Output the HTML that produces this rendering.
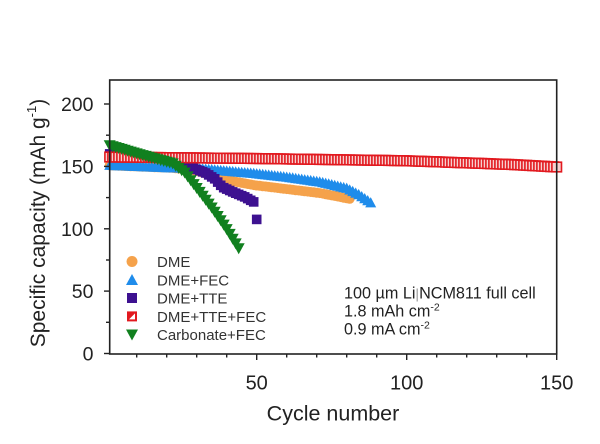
<!DOCTYPE html>
<html>
<head>
<meta charset="utf-8">
<style>
  html,body{margin:0;padding:0;background:#fff;}
  svg{display:block;}
  text{font-family:"Liberation Sans", Arial, sans-serif;}
</style>
</head>
<body>
<svg id="chart" width="600" height="444" viewBox="0 0 600 444" xmlns="http://www.w3.org/2000/svg">
  <rect x="0" y="0" width="600" height="444" fill="#fff"/>
  <g id="series"></g>

  <!-- frame -->
  <rect x="109.7" y="80" width="447" height="274" fill="none" stroke="#222" stroke-width="1.6"/>

  <!-- y ticks -->
  <g stroke="#222" stroke-width="1.4">
    <line x1="104" y1="353.5" x2="109.7" y2="353.5"/>
    <line x1="106" y1="322.3" x2="109.7" y2="322.3"/>
    <line x1="104" y1="291.1" x2="109.7" y2="291.1"/>
    <line x1="106" y1="260.0" x2="109.7" y2="260.0"/>
    <line x1="104" y1="228.8" x2="109.7" y2="228.8"/>
    <line x1="106" y1="197.6" x2="109.7" y2="197.6"/>
    <line x1="104" y1="166.4" x2="109.7" y2="166.4"/>
    <line x1="106" y1="135.2" x2="109.7" y2="135.2"/>
    <line x1="104" y1="104.0" x2="109.7" y2="104.0"/>
  </g>
  <!-- x ticks -->
  <g stroke="#222" stroke-width="1.4">
    <line x1="136.7" y1="354" x2="136.7" y2="357.5"/>
    <line x1="166.7" y1="354" x2="166.7" y2="357.5"/>
    <line x1="196.7" y1="354" x2="196.7" y2="357.5"/>
    <line x1="226.7" y1="354" x2="226.7" y2="357.5"/>
    <line x1="256.7" y1="354" x2="256.7" y2="360"/>
    <line x1="286.7" y1="354" x2="286.7" y2="357.5"/>
    <line x1="316.7" y1="354" x2="316.7" y2="357.5"/>
    <line x1="346.7" y1="354" x2="346.7" y2="357.5"/>
    <line x1="376.7" y1="354" x2="376.7" y2="357.5"/>
    <line x1="406.7" y1="354" x2="406.7" y2="360"/>
    <line x1="436.7" y1="354" x2="436.7" y2="357.5"/>
    <line x1="466.7" y1="354" x2="466.7" y2="357.5"/>
    <line x1="496.7" y1="354" x2="496.7" y2="357.5"/>
    <line x1="526.7" y1="354" x2="526.7" y2="357.5"/>
    <line x1="556.7" y1="354" x2="556.7" y2="360"/>
  </g>

  <!-- y tick labels -->
  <g font-size="19.5" fill="#222" text-anchor="end">
    <text x="93.5" y="360.5">0</text>
    <text x="93.5" y="298.1">50</text>
    <text x="93.5" y="235.8">100</text>
    <text x="93.5" y="173.4">150</text>
    <text x="93.5" y="111">200</text>
  </g>
  <!-- x tick labels -->
  <g font-size="20" fill="#222" text-anchor="middle">
    <text x="256.7" y="389.3">50</text>
    <text x="406.7" y="389.3">100</text>
    <text x="556.7" y="389.3">150</text>
  </g>

  <!-- axis titles -->
  <text x="333" y="420.5" font-size="21.5" fill="#222" text-anchor="middle">Cycle number</text>
  <text transform="translate(45,223) rotate(-90)" font-size="21" fill="#222" text-anchor="middle">Specific capacity (mAh g<tspan font-size="13" dy="-9">-1</tspan><tspan dy="9">)</tspan></text>

  <!-- legend -->
  <g>
    <circle cx="132" cy="261.5" r="5.5" fill="#f5a24b"/>
    <polygon points="132,274 126,285 138,285" fill="#1f8ceb"/>
    <rect x="127" y="293" width="10" height="10" fill="#3d1190"/>
    <rect x="127" y="311.4" width="10" height="10" fill="#e2191f"/>
    <polygon points="129,319.4 135,313.4 135,319.4" fill="#fff"/>
    <polygon points="126,329.5 138,329.5 132,340.5" fill="#11801f"/>
  </g>
  <g font-size="15" fill="#333">
    <text x="157" y="267">DME</text>
    <text x="157" y="285.3">DME+FEC</text>
    <text x="157" y="303.6">DME+TTE</text>
    <text x="157" y="321.9">DME+TTE+FEC</text>
    <text x="157" y="340.2">Carbonate+FEC</text>
  </g>

  <!-- annotation -->
  <g font-size="16.2" fill="#222">
    <text x="344" y="298.3">100 µm Li<tspan fill="#999" font-size="14">|</tspan>NCM811 full cell</text>
    <text x="344" y="316.7">1.8 mAh cm<tspan font-size="10.5" dy="-6">-2</tspan></text>
    <text x="344" y="334.3">0.9 mA cm<tspan font-size="10.5" dy="-6">-2</tspan></text>
  </g>
</svg>
<script>
(function(){
  function X(c){return 106.7+3*c;}
  function Y(v){return 353.5-1.2475*v;}
  function interp(p,c){
    if(c<=p[0][0]) return p[0][1];
    for(var i=0;i<p.length-1;i++){
      if(c<=p[i+1][0]){
        var t=(c-p[i][0])/(p[i+1][0]-p[i][0]);
        return p[i][1]+t*(p[i+1][1]-p[i][1]);
      }
    }
    return p[p.length-1][1];
  }
  var red=[[1,157.5],[50,156.3],[100,154.5],[135,151.5],[150,149.5]];
  var blue=[[1,151],[22,149],[33,148],[44,145.5],[49,144.5],[60,141.5],[71,137.7],[80,132.6],[84,127.5],[88,121]];
  var orange=[[1,150.8],[22,148.8],[30,146.5],[34,143.5],[40,139],[49,135],[60,131.8],[71,128.6],[81,124]];
  var purple=[[1,160],[10,158],[20,156],[25,153],[28.4,149],[33,144.7],[36,140],[38.5,133.5],[42,129.5],[46,125.5],[49,121.5]];
  var green=[[1,166.5],[10,160],[22,152],[26,144.7],[30.4,131],[35,116.6],[39.4,101.6],[44,84]];
  var s='';
  var c,x,y;
  // orange circles
  for(c=1;c<=81;c++){x=X(c);y=Y(interp(orange,c));
    s+='<circle cx="'+x.toFixed(1)+'" cy="'+y.toFixed(1)+'" r="5" fill="#f5a24b"/>';}
  // blue up triangles
  for(c=1;c<=88;c++){x=X(c);y=Y(interp(blue,c));
    s+='<polygon points="'+x.toFixed(1)+','+(y-5.5).toFixed(1)+' '+(x-5.5).toFixed(1)+','+(y+4.8).toFixed(1)+' '+(x+5.5).toFixed(1)+','+(y+4.8).toFixed(1)+'" fill="#1f8ceb"/>';}
  // purple squares
  for(c=1;c<=49;c++){x=X(c);y=Y(interp(purple,c));
    s+='<rect x="'+(x-4.8).toFixed(1)+'" y="'+(y-4.8).toFixed(1)+'" width="9.6" height="9.6" fill="#3d1190"/>';}
  x=X(50);y=Y(107.5);
  s+='<rect x="'+(x-4.8).toFixed(1)+'" y="'+(y-4.8).toFixed(1)+'" width="9.6" height="9.6" fill="#3d1190"/>';
  // red open squares
  for(c=1;c<=150;c++){x=X(c);y=Y(interp(red,c));
    s+='<rect x="'+(x-4.8).toFixed(1)+'" y="'+(y-4.8).toFixed(1)+'" width="9.6" height="9.6" fill="#f6d0d0" stroke="#e2191f" stroke-width="1.6"/>';}
  // green down triangles
  for(c=1;c<=44;c++){x=X(c);y=Y(interp(green,c));
    s+='<polygon points="'+(x-6).toFixed(1)+','+(y-5.5).toFixed(1)+' '+(x+6).toFixed(1)+','+(y-5.5).toFixed(1)+' '+x.toFixed(1)+','+(y+5.5).toFixed(1)+'" fill="#11801f"/>';}
  document.getElementById('series').innerHTML=s;
})();
</script>
</body>
</html>
